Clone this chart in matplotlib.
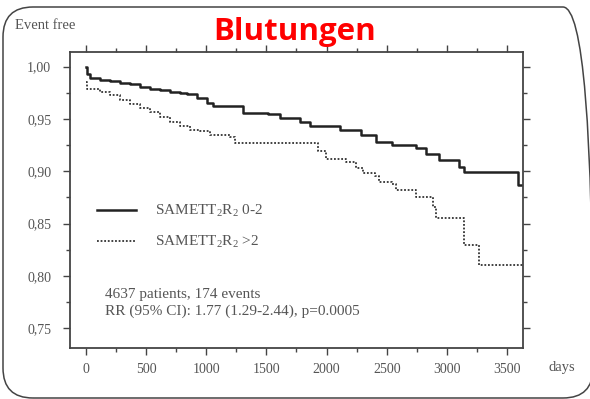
import matplotlib
matplotlib.use("Agg")
import matplotlib.pyplot as plt
from matplotlib.patches import FancyBboxPatch

# Kaplan-Meier steps (days, event-free fraction)
low_days = [0, 5, 33, 116, 199, 282, 365, 448, 531, 614, 697, 780, 836, 919,
            1002, 1057, 1195, 1306, 1513, 1610, 1776, 1859, 2108, 2288, 2413,
            2548, 2745, 2828, 2938, 3104, 3146, 3590, 3640]
low_vals = [1.000, 0.993, 0.989, 0.987, 0.986, 0.984, 0.983, 0.981, 0.979,
            0.978, 0.976, 0.975, 0.974, 0.970, 0.965, 0.962, 0.962, 0.956,
            0.955, 0.951, 0.947, 0.943, 0.939, 0.935, 0.928, 0.925, 0.922,
            0.916, 0.911, 0.904, 0.899, 0.887, 0.887]

high_days = [0, 6, 116, 199, 282, 365, 448, 531, 614, 697, 780, 863, 946,
             1029, 1195, 1237, 1925, 1998, 2164, 2247, 2299, 2399, 2440, 2548,
             2579, 2745, 2881, 2911, 3146, 3265, 3640]
high_vals = [0.985, 0.979, 0.976, 0.973, 0.968, 0.964, 0.960, 0.957, 0.952,
             0.947, 0.943, 0.939, 0.938, 0.935, 0.933, 0.927, 0.919, 0.912,
             0.909, 0.903, 0.898, 0.895, 0.890, 0.888, 0.882, 0.875, 0.866,
             0.855, 0.829, 0.810, 0.810]

x_ticks = [0, 500, 1000, 1500, 2000, 2500, 3000, 3500]
x_minor = [250, 750, 1250, 1750, 2250, 2750, 3250]
y_ticks = [0.75, 0.80, 0.85, 0.90, 0.95, 1.00]
y_minor = [0.775, 0.825, 0.875, 0.925, 0.975]
y_labels = ["0,75", "0,80", "0,85", "0,90", "0,95", "1,00"]

label_low = r"SAMETT$_\mathrm{2}$R$_\mathrm{2}$ 0-2"
label_high = r"SAMETT$_\mathrm{2}$R$_\mathrm{2}$ >2"
stats_text = "4637 patients, 174 events\nRR (95% CI): 1.77 (1.29-2.44), p=0.0005"

plt.rcParams["font.family"] = ["Liberation Serif", "DejaVu Serif"]
plt.rcParams["mathtext.fontset"] = "custom"
plt.rcParams["mathtext.rm"] = "Liberation Serif"
plt.rcParams["mathtext.it"] = "Liberation Serif:italic"

grey = "#555555"
fig = plt.figure(figsize=(5.9, 3.99), dpi=100)
ax = fig.add_axes([0.1186, 0.1278, 0.7678, 0.7419])

ax.plot(low_days, low_vals, drawstyle="steps-post", color="#222222",
        lw=1.8, label=label_low)
ax.plot(high_days, high_vals, drawstyle="steps-post", color="#333333",
        lw=1.3, ls=(0, (1, 1)), label=label_high)

ax.set_xticks(x_ticks)
ax.set_xticks(x_minor, minor=True)
ax.set_yticks(y_ticks)
ax.set_yticklabels(y_labels)
ax.set_yticks(y_minor, minor=True)
ax.set_xlim(-133, 3633)
ax.set_ylim(0.731, 1.014)

ax.tick_params(which="both", direction="out", top=True, right=True,
               colors="#444444", labelcolor=grey, labelsize=10)
ax.tick_params(which="major", length=5, width=1)
ax.tick_params(which="minor", length=3, width=1)
ax.tick_params(axis="y", pad=8.5)
ax.tick_params(axis="x", pad=6)
for s in ax.spines.values():
    s.set_color("#444444")
    s.set_linewidth(1.3)

ax.legend(loc="upper left", bbox_to_anchor=(0.06, 0.49), frameon=False,
          borderpad=0, borderaxespad=0, handlelength=2.55, handletextpad=1.25,
          labelspacing=1.0, fontsize=11, labelcolor=grey)

ax.text(0.077, 0.152, stats_text, transform=ax.transAxes, fontsize=11,
        color=grey, va="center", linespacing=1.3)

fig.text(0.025, 0.937, "Event free", fontsize=10.5, color=grey, va="center")
fig.text(0.929, 0.078, "days", fontsize=10.5, color=grey, va="center")
fig.text(0.5, 0.92, "Blutungen", fontsize=22.5, fontweight="bold",
         color="red", ha="center", va="center",
         family=["Open Sans", "DejaVu Sans"])

frame = FancyBboxPatch((3, 1), 590, 391,
                       boxstyle="round,pad=0,rounding_size=30",
                       transform=None, fill=False, ec="#444444", lw=1.1)
fig.patches.append(frame)

fig.savefig("out.png", dpi=100)
